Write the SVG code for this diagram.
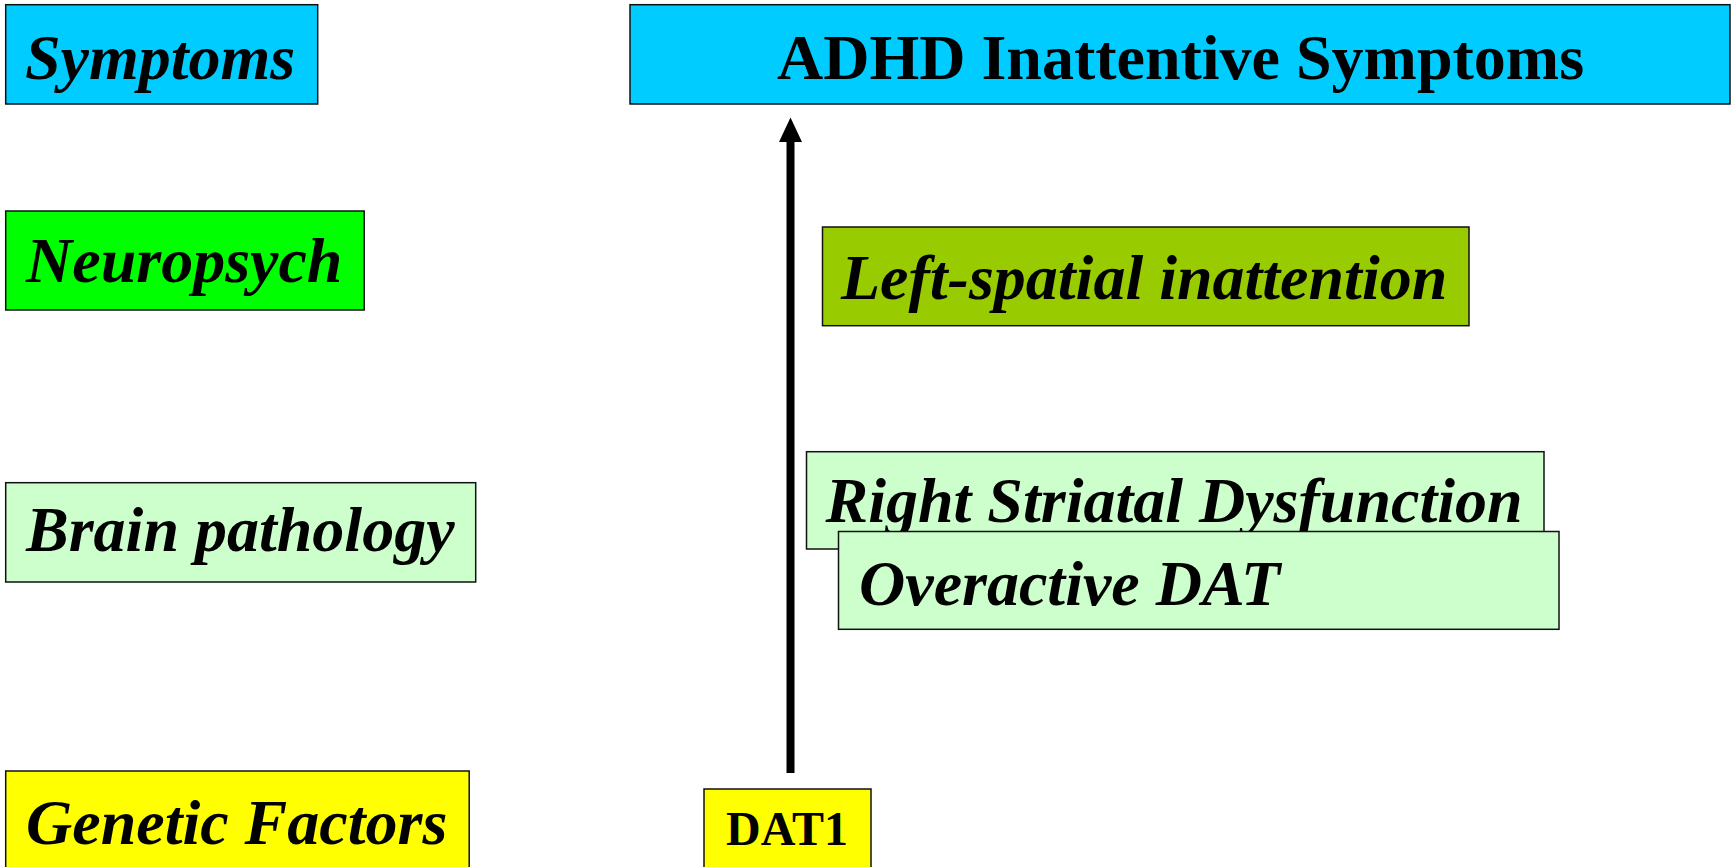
<svg xmlns="http://www.w3.org/2000/svg" width="1734" height="867" viewBox="0 0 1734 867">
<style>
.box{stroke:#111;stroke-width:1.5}
.t{font-family:"Liberation Serif","Times New Roman",serif;font-weight:bold;fill:#000}
.it{font-style:italic;font-size:64px}
.cyan{fill:#00CCFF}.green{fill:#00FF00}.lgreen{fill:#CCFFCC}.yellow{fill:#FFFF00}.olive{fill:#99CC00}
</style>
<rect width="1734" height="867" fill="#fff"/>
<g id="symptoms-label"><rect class="box cyan" x="5.7" y="4.7" width="312" height="99.3"/><text class="t it" x="25" y="78.5">Symptoms</text></g>
<g id="neuropsych-label"><rect class="box green" x="5.7" y="211" width="358.5" height="99"/><text class="t it" x="26" y="282">Neuropsych</text></g>
<g id="brain-label"><rect class="box lgreen" x="5.7" y="482.7" width="470" height="99.3"/><text class="t it" x="26" y="551">Brain pathology</text></g>
<g id="genetic-label"><rect class="box yellow" x="5.7" y="771" width="463.5" height="110"/><text class="t it" x="26" y="843.5">Genetic Factors</text></g>
<g id="adhd"><rect class="box cyan" x="630" y="4.7" width="1100" height="99.3"/><text class="t" x="1180.5" y="78.5" font-size="64" text-anchor="middle">ADHD Inattentive Symptoms</text></g>
<g id="left-spatial"><rect class="box olive" x="822.5" y="227" width="646.5" height="98.7"/><text class="t it" x="841" y="299">Left-spatial inattention</text></g>
<g id="right-striatal"><rect class="box lgreen" x="806.5" y="451.7" width="737.5" height="97.3"/><text class="t it" x="825.5" y="522">Right Striatal Dysfunction</text></g>
<g id="overactive-dat"><rect class="box lgreen" x="838.5" y="531.5" width="720.5" height="97.8"/><text class="t it" x="859" y="605">Overactive DAT</text></g>
<g id="dat1"><rect class="box yellow" x="704" y="789" width="167" height="92"/><text class="t" x="787" y="845" font-size="48" text-anchor="middle">DAT1</text></g>
<g id="connectors">
<line x1="790.5" y1="773" x2="790.5" y2="138" stroke="#000" stroke-width="8"/>
<polygon points="790.5,117.5 802,142 779,142" fill="#000"/>
</g>
</svg>
